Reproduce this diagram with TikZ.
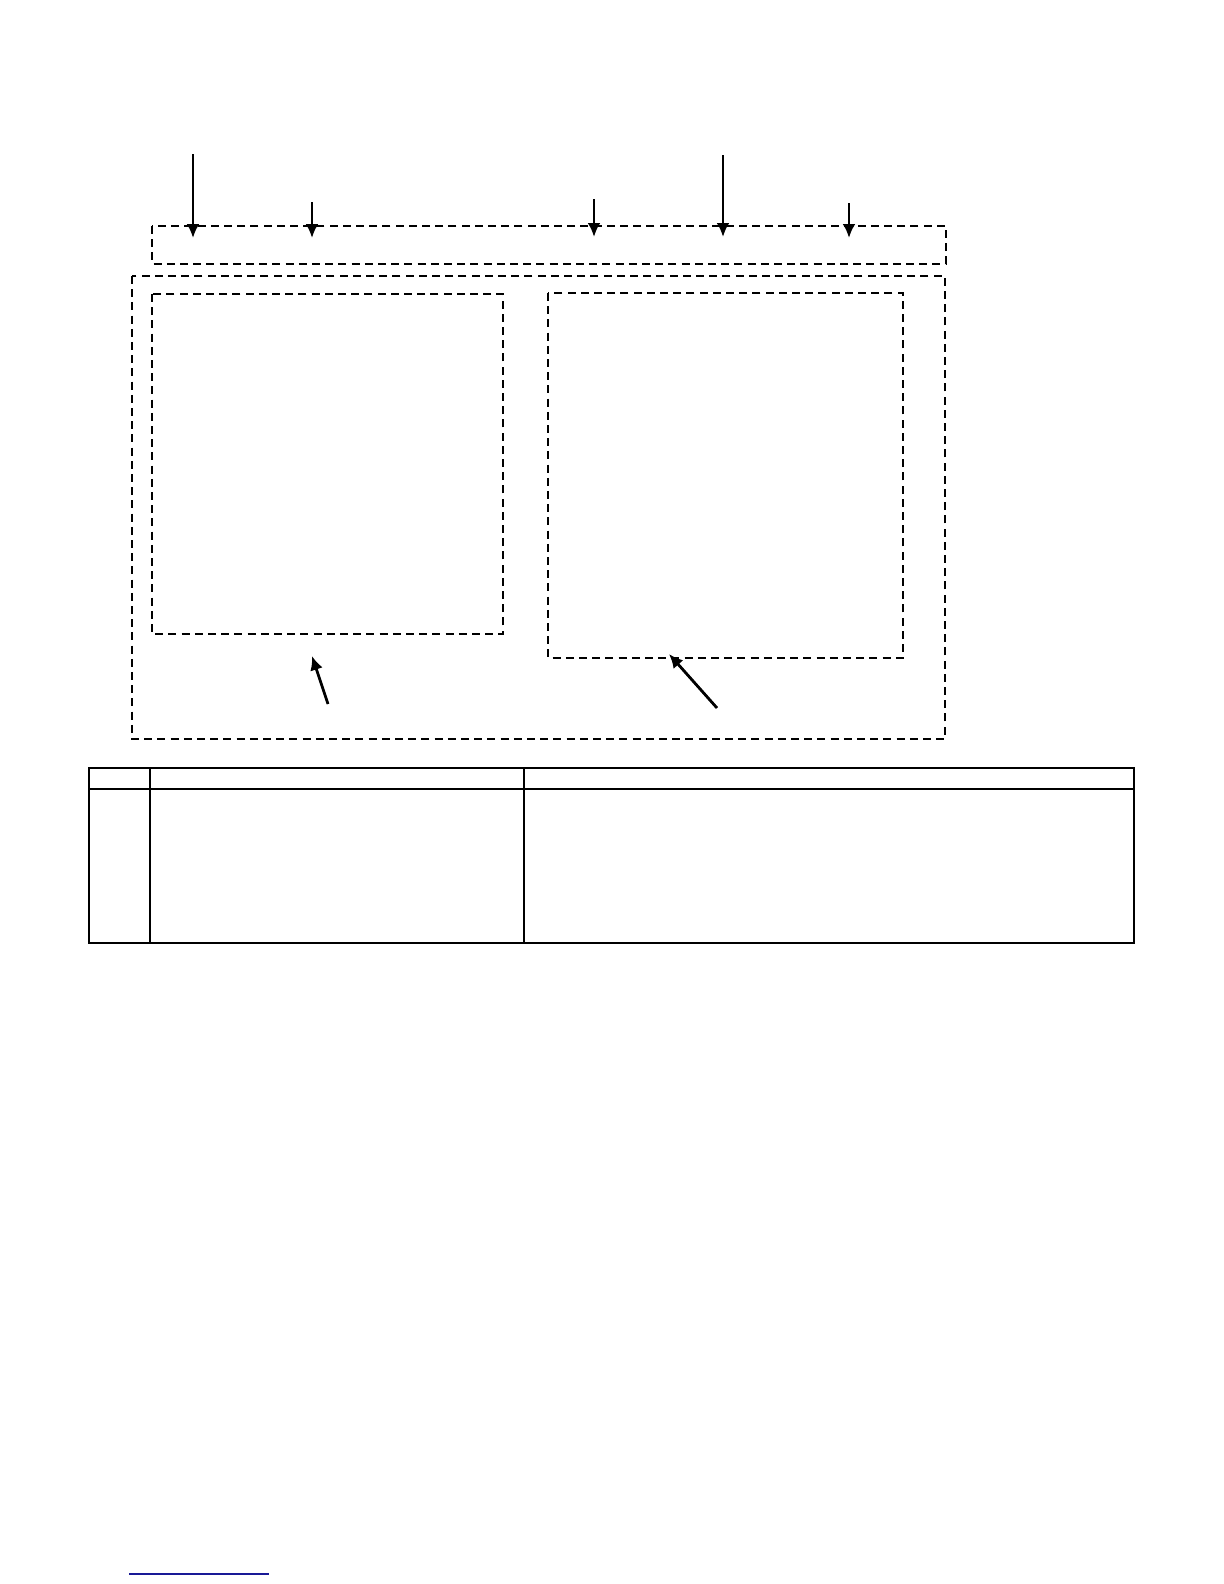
\documentclass[tikz,border=0pt]{standalone}
\usepackage{tikz}
\usetikzlibrary{arrows.meta}
\definecolor{linknavy}{RGB}{25,25,150}
\tikzset{
  dashbox/.style={draw, line width=1.2bp, dash pattern=on 4bp off 2.6bp},
  callout/.style={line width=1.4bp, -{Latex[length=7bp,width=6.5bp]}},
  tablerule/.style={draw, line width=1bp}
}

\begin{document}
\begin{tikzpicture}[x=0.5bp,y=-0.5bp]
        \useasboundingbox (0,0) rectangle (1224,1584);
        % dashed frames
        \draw[dashbox] (152,226) rectangle (946,264);
        \draw[dashbox] (132,276) rectangle (945,739);
        \draw[dashbox] (152,294) rectangle (503,634);
        \draw[dashbox] (548,293) rectangle (903,658);
        % top callouts
        \coordinate (tA) at (193,154); \coordinate (hA) at (193,238);
        \coordinate (tB) at (312,202); \coordinate (hB) at (312,238);
        \coordinate (tC) at (594,199); \coordinate (hC) at (594,237);
        \coordinate (tD) at (723,155); \coordinate (hD) at (723,237);
        \coordinate (tE) at (849,203); \coordinate (hE) at (849,238);
        \draw[callout] (tA) -- (hA);
        \draw[callout] (tB) -- (hB);
        \draw[callout] (tC) -- (hC);
        \draw[callout] (tD) -- (hD);
        \draw[callout] (tE) -- (hE);
        % bottom callouts
        \coordinate (tL) at (328,704); \coordinate (hL) at (312,656);
        \coordinate (tR) at (717,708); \coordinate (hR) at (669,654);
        \draw[callout] (tL) -- (hL);
        \draw[callout] (tR) -- (hR);
        % table
        \draw[tablerule] (89,768) rectangle (1134,943);
        \draw[tablerule] (89,789) -- (1134,789);
        \draw[tablerule] (150,768) -- (150,943);
        \draw[tablerule] (524,768) -- (524,943);
        % link underline
        \draw[linknavy, line width=0.8bp] (129,1574) -- (269,1574);
    \end{tikzpicture}
\end{document}
